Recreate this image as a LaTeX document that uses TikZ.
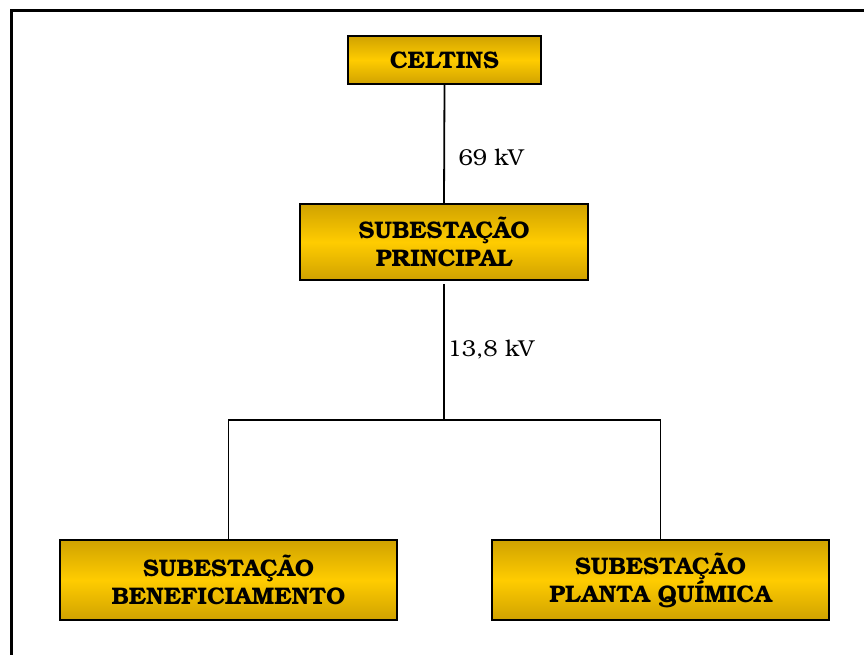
\documentclass[tikz,border=0pt]{standalone}
\usepackage{fontspec}
\newfontfamily\bonum{TeX Gyre Bonum}
\begin{document}
\begin{tikzpicture}[x=1pt,y=-1pt,
  gbox/.style={draw=black, line width=2pt, top color=gdark, bottom color=gdark, middle color=gbright,
    shading angle=0, minimum width=#1, inner sep=0pt, align=center,
    font=\bonum\bfseries\fontsize{24}{28}\selectfont},
  wire/.style={line width=1.8pt, black},
  lbl/.style={font=\bonum\fontsize{23}{26}\selectfont, anchor=west}]
\definecolor{gdark}{HTML}{D0A200}
\definecolor{gbright}{HTML}{FFCC00}
\useasboundingbox (0,0) rectangle (864,655);
\draw[line width=3pt] (11,700) -- (11,11) -- (900,11);
\node[gbox=193pt, minimum height=48pt] (celtins) at (444.5,60) {CELTINS};
\node[gbox=288pt, minimum height=76pt] (principal) at (444,242) {SUBESTAÇÃO\\PRINCIPAL};
\node[gbox=337pt, minimum height=80pt] (benef) at (228.5,580) {SUBESTAÇÃO\\BENEFICIAMENTO};
\node[gbox=337pt, minimum height=80pt] (quim) at (660.5,580) {SUBESTAÇÃO\\PLANTA QUÍMICA};
\coordinate (j) at (444,420);
\draw[wire] (celtins.south) -- (principal.north);
\draw[wire] (principal.south) ++(0,3) -- (j);
\draw[wire] (benef.north) |- (j) -| (quim.north);
\node[lbl] (v69) at (455,157) {69 kV};
\node[lbl] (v138) at (444,350) {13,8 kV};
\end{tikzpicture}
\end{document}
